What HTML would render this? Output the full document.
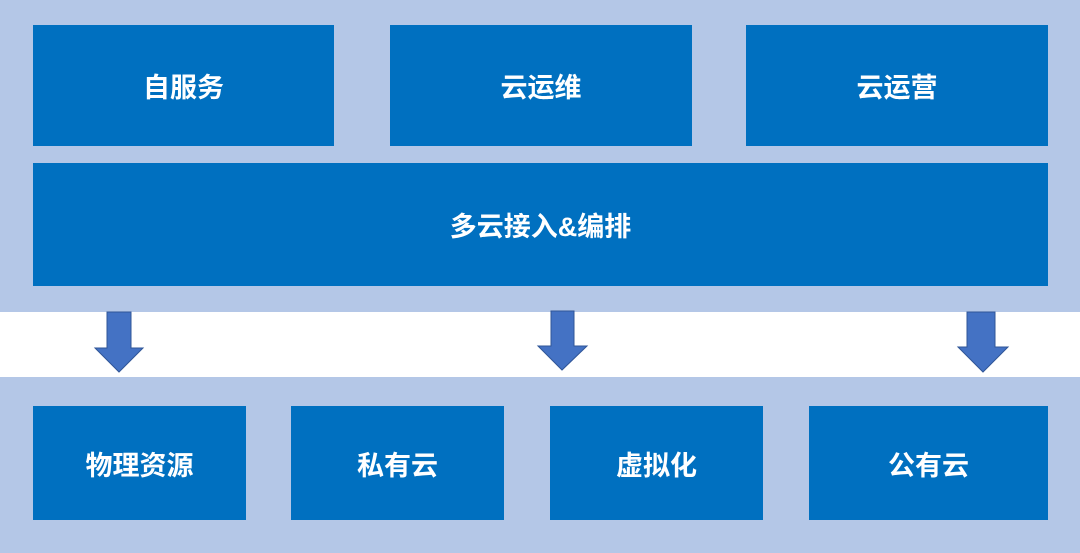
<!DOCTYPE html>
<html><head><meta charset="utf-8"><style>
body{margin:0;width:1080px;height:553px;background:#b4c7e7;position:relative;overflow:hidden;font-family:"Liberation Sans","Noto Sans CJK SC",sans-serif}
.b{position:absolute;background:#0070c0;color:#fff;font-weight:bold;font-size:27px;display:flex;align-items:center;justify-content:center}
.w{position:absolute;left:0;top:312px;width:1080px;height:65px;background:#fff}
svg{position:absolute;left:0;top:0}
</style></head><body>
<div class="b" style="left:33px;top:25px;width:301px;height:121px">自服务</div>
<div class="b" style="left:390px;top:25px;width:302px;height:121px">云运维</div>
<div class="b" style="left:746px;top:25px;width:302px;height:121px">云运营</div>
<div class="b" style="left:33px;top:163px;width:1015px;height:123px">多云接入&amp;编排</div>
<div class="w"></div>
<svg width="1080" height="553">
<g fill="#4472c4" stroke="#2f5597" stroke-width="1">
<polygon points="107,312 131,312 131,348 143,348 119,372 95,348 107,348"/>
<polygon points="551,311 574,311 574,346 587,346 562,370 538,346 551,346"/>
<polygon points="967,312 995,312 995,347 1008,347 983,372 958,347 967,347"/>
</g></svg>
<div class="b" style="left:33px;top:406px;width:213px;height:114px">物理资源</div>
<div class="b" style="left:291px;top:406px;width:213px;height:114px">私有云</div>
<div class="b" style="left:550px;top:406px;width:213px;height:114px">虚拟化</div>
<div class="b" style="left:809px;top:406px;width:239px;height:114px">公有云</div>
</body></html>
